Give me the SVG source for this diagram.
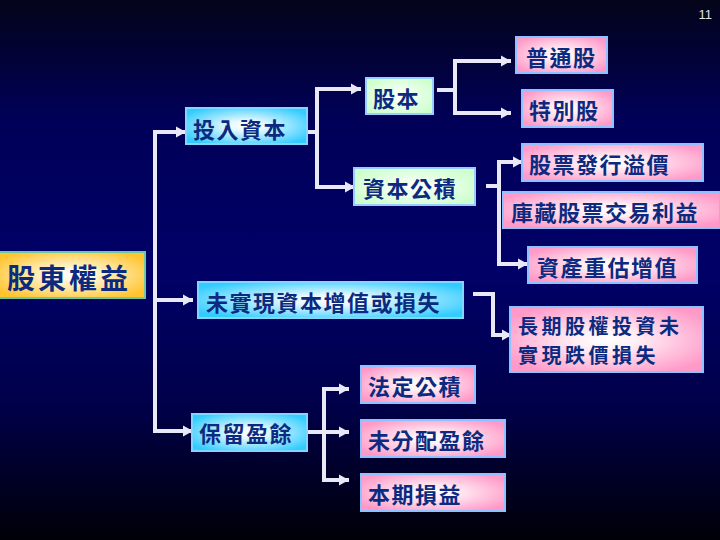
<svg xmlns="http://www.w3.org/2000/svg" width="720" height="540" viewBox="0 0 720 540">
<defs>
<linearGradient id="bg" x1="0" y1="0" x2="0" y2="1">
<stop offset="0" stop-color="#04041a"/>
<stop offset="0.22" stop-color="#000058"/>
<stop offset="0.5" stop-color="#000068"/>
<stop offset="0.75" stop-color="#00004a"/>
<stop offset="1" stop-color="#000008"/>
</linearGradient>
<radialGradient id="gCyan" cx="0.5" cy="0.5" r="0.6">
<stop offset="0" stop-color="#ffffff"/>
<stop offset="0.25" stop-color="#e6f8ff"/>
<stop offset="1" stop-color="#33ccff"/>
</radialGradient>
<radialGradient id="gPink" cx="0.5" cy="0.5" r="0.6">
<stop offset="0" stop-color="#ffffff"/>
<stop offset="0.25" stop-color="#fff0f6"/>
<stop offset="1" stop-color="#ff99c8"/>
</radialGradient>
<radialGradient id="gGreen" cx="0.5" cy="0.5" r="0.6">
<stop offset="0" stop-color="#ffffff"/>
<stop offset="1" stop-color="#ccffcc"/>
</radialGradient>
<radialGradient id="gOrange" cx="0.5" cy="0.5" r="0.6">
<stop offset="0" stop-color="#ffffff"/>
<stop offset="0.3" stop-color="#fff3cc"/>
<stop offset="1" stop-color="#ffc42e"/>
</radialGradient>
<marker id="arr" markerUnits="userSpaceOnUse" markerWidth="12" markerHeight="12" viewBox="0 0 12 12" refX="11" refY="6" orient="auto">
<path d="M1,0.5 L11,6 L1,11.5 Z" fill="#e8e8f6"/>
</marker>
</defs>
<style>
.bx{stroke-width:2}
.cy{fill:url(#gCyan);stroke:#7fd6ff}
.pk{fill:url(#gPink);stroke:#8fc0ff}
.gr{fill:url(#gGreen);stroke:#99ccff}
.or{fill:url(#gOrange);stroke:#70c8a0}
.t{font-family:"Noto Sans CJK TC","Noto Sans CJK SC",sans-serif;font-weight:bold;font-size:22px;letter-spacing:1.5px;fill:#0c2a80;dominant-baseline:central}
.big{font-size:28px;letter-spacing:3px}
.sm{font-size:20px;letter-spacing:3.5px}
.ln{fill:none;stroke:#e8e8f6;stroke-width:4}
.ar{fill:none;stroke:#e8e8f6;stroke-width:4;marker-end:url(#arr)}
</style>
<rect x="0" y="0" width="720" height="540" fill="url(#bg)"/>
<text x="712" y="19" text-anchor="end" font-family="Liberation Sans Narrow, Liberation Sans, sans-serif" font-size="13" fill="#e0e0e0">11</text>

<g id="connectors">
<path class="ln" d="M155,130 V433"/>
<path class="ar" d="M153,132 H186"/>
<path class="ar" d="M155,300 H193"/>
<path class="ar" d="M155,431 H193"/>
<path class="ln" d="M307,132 H317"/>
<path class="ln" d="M317,87 V189"/>
<path class="ar" d="M315,89 H361"/>
<path class="ar" d="M315,187 H355"/>
<path class="ln" d="M437,90 H455"/>
<path class="ln" d="M455,59 V115"/>
<path class="ar" d="M453,61 H511"/>
<path class="ar" d="M453,113 H511"/>
<path class="ln" d="M486,186 H499"/>
<path class="ln" d="M499,160 V266"/>
<path class="ar" d="M497,162 H523"/>
<path class="ar" d="M497,264 H528"/>
<path class="ar" d="M473,294 H493 V335 H512"/>
<path class="ln" d="M307,432 H324"/>
<path class="ln" d="M324,387 V482"/>
<path class="ar" d="M322,389 H349"/>
<path class="ar" d="M324,432 H349"/>
<path class="ar" d="M322,480 H349"/>
</g>

<g id="n-equity"><rect class="bx or" x="-2" y="252" width="147" height="46"/><text class="t big" x="7" y="277">股東權益</text></g>
<g id="n-paidin"><rect class="bx cy" x="186" y="108" width="121" height="36"/><text class="t" x="193" y="128">投入資本</text></g>
<g id="n-stock"><rect class="bx gr" x="366" y="78" width="67" height="36"/><text class="t" x="373" y="97">股本</text></g>
<g id="n-common"><rect class="bx pk" x="516" y="37" width="91" height="36"/><text class="t" x="526" y="56">普通股</text></g>
<g id="n-preferred"><rect class="bx pk" x="522" y="90" width="91" height="37"/><text class="t" x="529" y="109">特別股</text></g>
<g id="n-capsurplus"><rect class="bx gr" x="354" y="168" width="121" height="37"/><text class="t" x="363" y="187">資本公積</text></g>
<g id="n-premium"><rect class="bx pk" x="522" y="144" width="181" height="37"/><text class="t" x="529" y="163">股票發行溢價</text></g>
<g id="n-treasury"><rect class="bx pk" x="503" y="192" width="217" height="36"/><text class="t" x="511" y="211">庫藏股票交易利益</text></g>
<g id="n-revalue"><rect class="bx pk" x="528" y="247" width="169" height="36"/><text class="t" x="537" y="266">資產重估增值</text></g>
<g id="n-unrealized"><rect class="bx cy" x="198" y="282" width="265" height="36"/><text class="t" x="206" y="301">未實現資本增值或損失</text></g>
<g id="n-ltinvest"><rect class="bx pk" x="510" y="307" width="193" height="65"/><text class="t sm" x="518" y="325">長期股權投資未</text><text class="t sm" x="518" y="354">實現跌價損失</text></g>
<g id="n-retained"><rect class="bx cy" x="192" y="414" width="115" height="37"/><text class="t" x="199" y="432">保留盈餘</text></g>
<g id="n-legal"><rect class="bx pk" x="361" y="366" width="114" height="37"/><text class="t" x="368" y="385">法定公積</text></g>
<g id="n-undist"><rect class="bx pk" x="361" y="420" width="144" height="37"/><text class="t" x="368" y="439">未分配盈餘</text></g>
<g id="n-period"><rect class="bx pk" x="361" y="474" width="144" height="37"/><text class="t" x="368" y="493">本期損益</text></g>
</svg>
